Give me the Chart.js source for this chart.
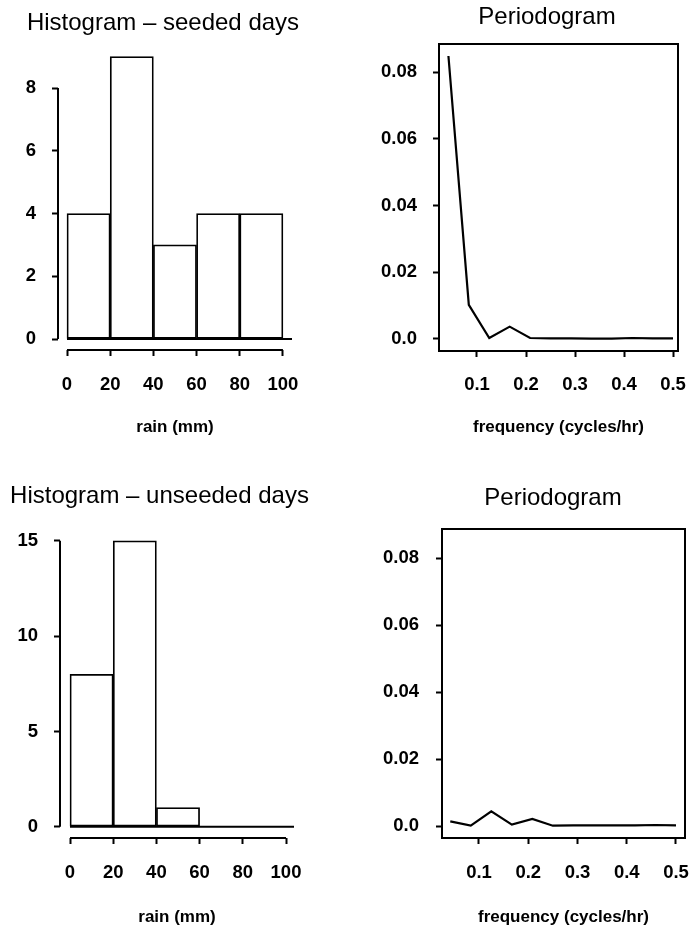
<!DOCTYPE html>
<html><head><meta charset="utf-8">
<script src="https://cdn.jsdelivr.net/npm/chart.js@4.4.1/dist/chart.umd.min.js"></script>
<style>
html,body{margin:0;padding:0;background:#fff;overflow:hidden;width:690px;height:928px;position:relative;}
.cell{position:absolute;}
canvas{display:block;}
</style></head><body>
<div class="cell" style="left:0;top:0"><canvas id="c1" width="345" height="460"></canvas></div>
<div class="cell" style="left:345px;top:0"><canvas id="c2" width="400" height="460"></canvas></div>
<div class="cell" style="left:0;top:460px"><canvas id="c3" width="345" height="468"></canvas></div>
<div class="cell" style="left:345px;top:460px"><canvas id="c4" width="400" height="468"></canvas></div>
<script>
// ---- data ----
const binCenters = [10, 30, 50, 70, 90];
const seededCounts = [4, 9, 3, 4, 4];
const unseededCounts = [8, 15, 1, 0, 0];
const frequencies = [0.0417, 0.0833, 0.125, 0.1667, 0.2083, 0.25, 0.2917, 0.3333, 0.375, 0.4167, 0.4583, 0.5];
const seededPeriodogram = [0.0848, 0.0102, 0.0003, 0.0037, 0.0003, 0.0002, 0.0002, 0.0001, 0.0001, 0.0003, 0.0002, 0.0002];
const unseededPeriodogram = [0.0014, 0.0001, 0.0044, 0.0004, 0.0021, 0.0001, 0.0002, 0.0002, 0.0002, 0.0002, 0.0003, 0.0002];
const histXTickLabels = ['0', '20', '40', '60', '80', '100'];
const seededYTickLabels = ['0', '2', '4', '6', '8'];
const unseededYTickLabels = ['0', '5', '10', '15'];
const pgramXTickLabels = ['0.1', '0.2', '0.3', '0.4', '0.5'];
const pgramYTickLabels = ['0.0', '0.02', '0.04', '0.06', '0.08'];
const titles = ['Histogram \u2013 seeded days', 'Periodogram', 'Histogram \u2013 unseeded days', 'Periodogram'];
const xTitles = ['rain (mm)', 'frequency (cycles/hr)'];

Chart.defaults.font.family = "'Liberation Sans', Arial, Helvetica, sans-serif";
Chart.defaults.color = '#000';
Chart.defaults.animation = false;

const tickFont = {size: 18.5, weight: 'bold'};
const TITLE_SIZE = 24, TITLE_LH = 1.2;

// layout geometry (page coordinates) -> Chart.js paddings / box sizes
function geom(p) {
  const R = 2 * p.titleCx - p.clipLeft;
  const tpt = p.titleMidY - p.cellTop - TITLE_SIZE * TITLE_LH / 2;
  return {
    pl: p.clipLeft - p.cellLeft,
    W: p.left - p.clipLeft,
    pr: p.cellLeft + p.cellW - R,
    Wr: R - p.right,
    tpt: tpt,
    tpb: p.top - p.cellTop - tpt - TITLE_SIZE * TITLE_LH,
    H: p.cellTop + p.cellH - p.bottom
  };
}

const histAxes = {
  id: 'histAxes',
  afterDraw(chart) {
    const {ctx, chartArea, scales: {x, y}} = chart;
    const xt = x.ticks, yt = y.ticks;
    ctx.save();
    ctx.strokeStyle = '#000';
    ctx.lineWidth = 2;
    ctx.beginPath();
    ctx.moveTo(chartArea.left, y.getPixelForValue(yt[0].value));
    ctx.lineTo(chartArea.left, y.getPixelForValue(yt[yt.length - 1].value));
    ctx.moveTo(x.getPixelForValue(xt[0].value), chartArea.bottom);
    ctx.lineTo(x.getPixelForValue(xt[xt.length - 1].value), chartArea.bottom);
    ctx.moveTo(x.getPixelForValue(0), y.getPixelForValue(0));
    ctx.lineTo(chartArea.right, y.getPixelForValue(0));
    ctx.stroke();
    ctx.restore();
  }
};
const boxPlugin = {
  id: 'boxPlugin',
  afterDraw(chart) {
    const {ctx, chartArea: a} = chart;
    ctx.save();
    ctx.strokeStyle = '#000';
    ctx.lineWidth = 2;
    ctx.strokeRect(a.left, a.top, a.right - a.left, a.bottom - a.top);
    ctx.restore();
  }
};

function xScale(g, labels, title) {
  return {
    type: 'linear', min: g.xmin, max: g.xmax, offset: false,
    grid: {display: true, drawOnChartArea: false, drawTicks: true, tickLength: 6, tickWidth: 2, tickColor: '#000', offset: false},
    border: {display: false},
    ticks: {stepSize: g.xstep, includeBounds: false, padding: g.xpad, font: tickFont, color: '#000',
            maxRotation: 0, minRotation: 0, autoSkip: false, callback: (v, i) => labels[i]},
    title: {display: true, text: title, font: {size: 17, weight: 'bold'}, color: '#000', padding: {top: 0, bottom: g.xtb}},
    afterFit(s) { s.height = g.H; s.paddingLeft = 0; s.paddingRight = 0; }
  };
}
function yScale(g, labels) {
  return {
    type: 'linear', position: 'left', min: g.ymin, max: g.ymax, beginAtZero: false,
    grid: {display: true, drawOnChartArea: false, drawTicks: true, tickLength: 6, tickWidth: 2, tickColor: '#000'},
    border: {display: false},
    ticks: {stepSize: g.ystep, includeBounds: false, padding: g.ypad, font: tickFont, color: '#000',
            autoSkip: false, callback: (v, i) => labels[i]},
    afterFit(s) { s.width = g.W; s.paddingTop = 0; s.paddingBottom = 0; }
  };
}
// empty right-hand spacer axis so the title can be centred where the reference has it
function spacerScale(g) {
  return {
    type: 'linear', position: 'right', display: true,
    grid: {display: false}, border: {display: false}, ticks: {display: false},
    afterFit(s) { s.width = g.Wr; s.paddingTop = 0; s.paddingBottom = 0; }
  };
}
function common(g, title) {
  return {
    responsive: false,
    animation: false,
    layout: {padding: {left: g.pl, right: g.pr, top: 0, bottom: 0}},
    plugins: {
      legend: {display: false},
      tooltip: {enabled: false},
      title: {display: true, text: title, color: '#000', font: {size: TITLE_SIZE, weight: 'normal', lineHeight: TITLE_LH},
              padding: {top: g.tpt, bottom: g.tpb}}
    }
  };
}

function histChart(id, counts, yLabels, title, g) {
  const opts = common(g, title);
  opts.scales = {x: xScale(g, histXTickLabels, xTitles[0]), y: yScale(g, yLabels), yr: spacerScale(g)};
  return new Chart(document.getElementById(id), {
    type: 'bar',
    data: {datasets: [{
      data: binCenters.map((c, i) => ({x: c, y: counts[i]})),
      backgroundColor: '#fff', borderColor: '#000', borderWidth: 1.75, borderSkipped: false,
      barPercentage: 1, categoryPercentage: 1
    }]},
    options: opts,
    plugins: [histAxes]
  });
}
function pgramChart(id, vals, title, g) {
  const opts = common(g, title);
  opts.scales = {x: xScale(g, pgramXTickLabels, xTitles[1]), y: yScale(g, pgramYTickLabels), yr: spacerScale(g)};
  return new Chart(document.getElementById(id), {
    type: 'line',
    data: {datasets: [{
      data: frequencies.map((f, i) => ({x: f, y: vals[i]})),
      borderColor: '#000', borderWidth: 2.2, pointRadius: 0, tension: 0, fill: false
    }]},
    options: opts,
    plugins: [boxPlugin]
  });
}

histChart('c1', seededCounts, seededYTickLabels, titles[0], Object.assign(geom({
  cellLeft: 0, cellTop: 0, cellW: 345, cellH: 460, clipLeft: 16,
  left: 58, right: 292, top: 50.4, bottom: 350, titleCx: 163, titleMidY: 23.4
}), {xmin: -4.17, xmax: 104.2, xstep: 20, xpad: 18, xtb: 22,
     ymin: -0.35, ymax: 9.2, ystep: 2, ypad: 16}));

pgramChart('c2', seededPeriodogram, titles[1], Object.assign(geom({
  cellLeft: 345, cellTop: 0, cellW: 400, cellH: 460, clipLeft: 370,
  left: 439, right: 678, top: 44, bottom: 351, titleCx: 547, titleMidY: 17
}), {xmin: 0.02245, xmax: 0.5102, xstep: 0.1, xpad: 17, xtb: 22,
     ymin: -0.0036, ymax: 0.0884, ystep: 0.02, ypad: 16}));

histChart('c3', unseededCounts, unseededYTickLabels, titles[2], Object.assign(geom({
  cellLeft: 0, cellTop: 460, cellW: 345, cellH: 468, clipLeft: 8,
  left: 60, right: 294, top: 530, bottom: 838, titleCx: 159.5, titleMidY: 496
}), {xmin: -4.63, xmax: 103.7, xstep: 20, xpad: 18, xtb: 0,
     ymin: -0.593, ymax: 15.57, ystep: 5, ypad: 16}));

pgramChart('c4', unseededPeriodogram, titles[3], Object.assign(geom({
  cellLeft: 345, cellTop: 460, cellW: 400, cellH: 468, clipLeft: 370,
  left: 442, right: 685, top: 529, bottom: 838, titleCx: 553, titleMidY: 498.7
}), {xmin: 0.0249, xmax: 0.5183, xstep: 0.1, xpad: 18, xtb: 0,
     ymin: -0.00358, ymax: 0.08866, ystep: 0.02, ypad: 17}));
</script>
</body></html>
